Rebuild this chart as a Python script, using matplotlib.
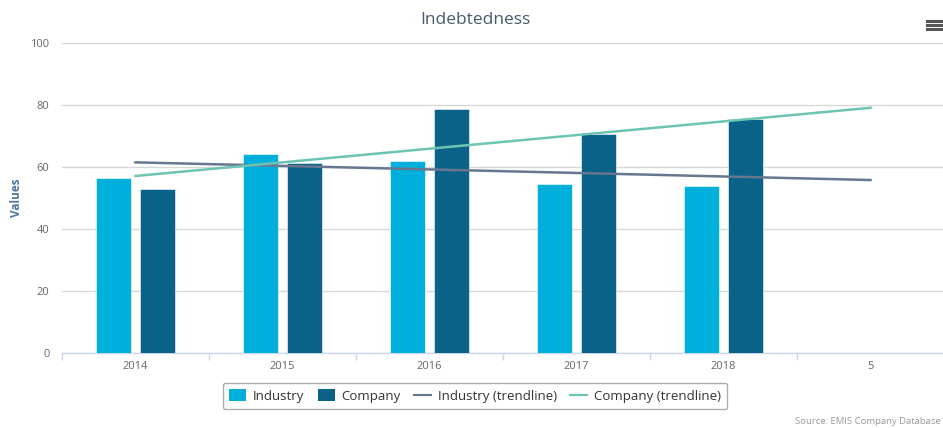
import matplotlib
matplotlib.use('Agg')
import matplotlib.pyplot as plt
from matplotlib.patches import Patch
from matplotlib.lines import Line2D
import numpy as np

plt.rcParams['font.family'] = ['Open Sans', 'DejaVu Sans']

categories = ['2014', '2015', '2016', '2017', '2018', '5']
industry = [56.4, 64.1, 62.0, 54.6, 53.9]
company = [52.9, 61.4, 78.6, 70.7, 75.6]
industry_trend = [61.5, 55.8]   # values at first and last category
company_trend = [57.1, 79.1]
y_ticks = [0, 20, 40, 60, 80, 100]

c_ind = '#00b0dc'
c_comp = '#0a6288'
c_ind_tr = '#66778f'
c_comp_tr = '#6cc4b2'

W, H = 943, 428
fig = plt.figure(figsize=(W / 100, H / 100), dpi=100)
ax = fig.add_axes([62 / W, 75 / H, 882 / W, 310 / H])

x = np.arange(len(industry))
bw = 0.238
ax.bar(x - 0.15, industry, bw, color=c_ind, zorder=3, edgecolor='white', linewidth=0.4)
ax.bar(x + 0.15, company, bw, color=c_comp, zorder=3, edgecolor='white', linewidth=0.4)
tx = [0, len(categories) - 1]
ax.plot(tx, industry_trend, color=c_ind_tr, lw=1.8, zorder=4)
ax.plot(tx, company_trend, color=c_comp_tr, lw=1.8, zorder=4)

ax.set_xlim(-0.5, len(categories) - 0.5)
ax.set_ylim(0, 100)
ax.set_yticks(y_ticks)
ax.set_yticklabels([str(v) for v in y_ticks], color='#666666', fontsize=8)
ax.tick_params(axis='y', length=0, pad=9)
ax.grid(axis='y', color='#d8d8d8', lw=1, zorder=0)
ax.set_xticks(np.arange(len(categories)))
ax.set_xticklabels(categories, color='#666666', fontsize=8)
ax.set_xticks(np.arange(len(categories) + 1) - 0.5, minor=True)
ax.tick_params(axis='x', which='major', length=0, pad=6)
ax.tick_params(axis='x', which='minor', length=5, color='#ccd6eb', width=1)
for s in ['top', 'right', 'left']:
    ax.spines[s].set_visible(False)
ax.spines['bottom'].set_color('#ccd6eb')
ax.spines['bottom'].set_linewidth(1)

fig.text(17 / W, 1 - 198 / H, 'Values', rotation=90, ha='center', va='center',
         color='#4d759e', fontsize=8.5, fontweight='bold')

fig.text(475 / W, 1 - 20 / H, 'Indebtedness', ha='center', va='center',
         fontsize=12.5, color='#4a5a6e')

# hamburger menu icon
for yy in [21, 25, 29]:
    fig.add_artist(Line2D([927 / W, 941 / W], [1 - yy / H, 1 - yy / H],
                          color='#555555', lw=2.2))

handles = [Patch(facecolor=c_ind, edgecolor='none', label='Industry'),
           Patch(facecolor=c_comp, edgecolor='none', label='Company'),
           Line2D([], [], color=c_ind_tr, lw=1.5, label='Industry (trendline)'),
           Line2D([], [], color=c_comp_tr, lw=1.5, label='Company (trendline)')]
leg = fig.legend(handles=handles, loc='center', bbox_to_anchor=(475 / W, 1 - 396 / H),
                 ncol=4, fontsize=9.5, frameon=True, fancybox=True,
                 edgecolor='#999999', handlelength=1.3, handleheight=1.0,
                 handletextpad=0.5, columnspacing=1.0, borderpad=0.5)
leg.get_frame().set_linewidth(1)
for t in leg.get_texts():
    t.set_color('#333333')

fig.text(795 / W, 1 - 421 / H, 'Source: EMIS Company Database', ha='left', va='center',
         fontsize=6.8, color='#999999')

fig.savefig('out.png', dpi=100)
